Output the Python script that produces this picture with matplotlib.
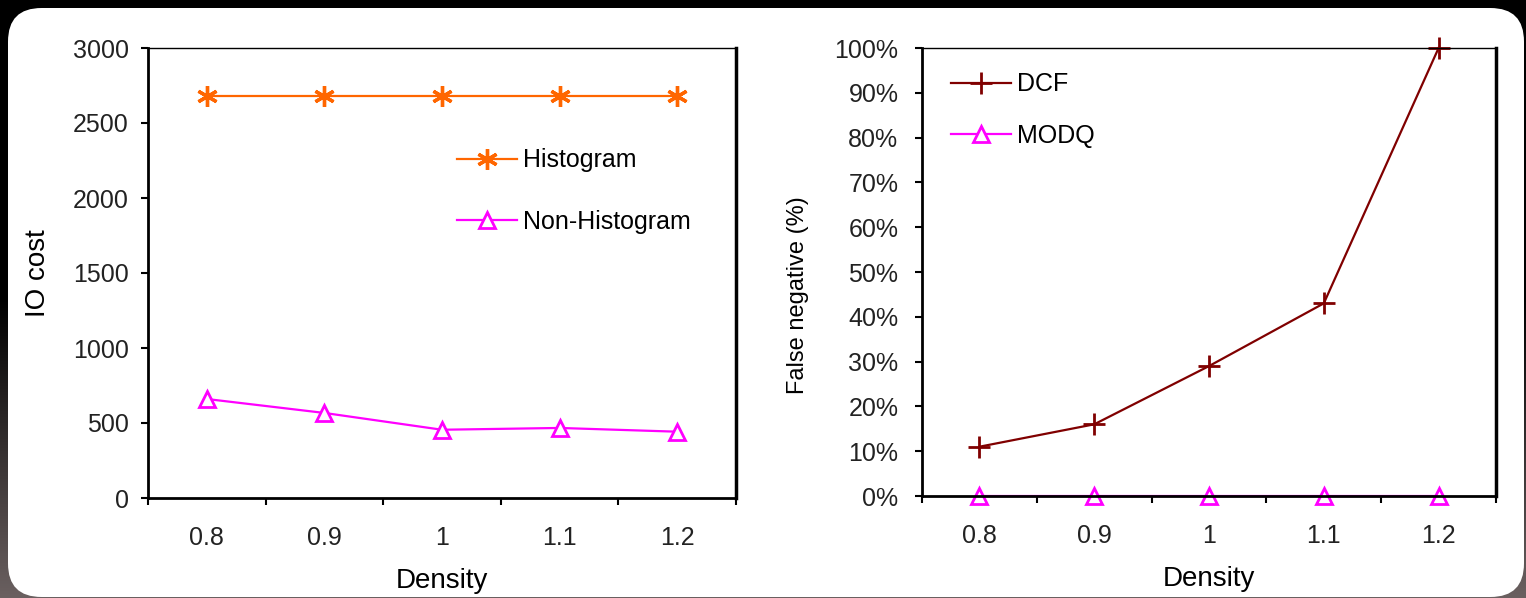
import numpy as np
import matplotlib
matplotlib.use("Agg")
import matplotlib.pyplot as plt
from matplotlib.patches import FancyBboxPatch
from matplotlib.colors import LinearSegmentedColormap

plt.rcParams['font.family'] = ['Liberation Sans', 'DejaVu Sans']

# ---- data ----
density = ["0.8", "0.9", "1", "1.1", "1.2"]
histogram_io = [2680, 2680, 2680, 2680, 2680]
non_histogram_io = [660, 567, 455, 467, 442]
dcf_fn = [11, 16, 29, 43, 100]
modq_fn = [0, 0, 0, 0, 0]
left_yticks = [0, 500, 1000, 1500, 2000, 2500, 3000]
right_yticks = [0, 10, 20, 30, 40, 50, 60, 70, 80, 90, 100]

W, H = 1526, 598
fig = plt.figure(figsize=(W / 100, H / 100), dpi=100)
fig.patch.set_facecolor('black')

# background gradient + rounded white panel
bg = fig.add_axes([0, 0, 1, 1], zorder=-10)
grad = np.linspace(0, 1, 256).reshape(-1, 1)
cmap = LinearSegmentedColormap.from_list('g', ['#000000', '#000000', '#6a6060'])
bg.imshow(grad, aspect='auto', cmap=cmap, extent=[0, 1, 0, 1], origin='upper')
bg.set_xlim(0, 1); bg.set_ylim(0, 1)
bg.axis('off')
panel = FancyBboxPatch((8 / W, 1 / H), (1524 - 8) / W, (590 - 1) / H,
                       boxstyle="round,pad=0,rounding_size=0.022",
                       transform=fig.transFigure, facecolor='white',
                       edgecolor='none', mutation_aspect=W / H)
bg.add_patch(panel)

x = np.arange(len(density))

def style_axes(ax, ypad):
    ax.set_xlim(-0.5, len(density) - 0.5)
    ax.set_xticks(np.arange(-0.5, len(density), 1.0))
    ax.set_xticklabels([])
    ax.set_xticks(x, minor=True)
    ax.set_xticklabels(density, minor=True)
    ax.tick_params(axis='x', which='major', direction='out', length=5, width=1.5, color='black')
    ax.tick_params(axis='x', which='minor', length=0, pad=20, labelsize=18, labelcolor='#222222')
    ax.tick_params(axis='y', direction='out', length=5, width=1.5, pad=ypad,
                   labelsize=18, labelcolor='#222222')
    for s in ['left', 'bottom']:
        ax.spines[s].set_linewidth(2)
    ax.spines['top'].set_linewidth(1)
    ax.spines['right'].set_linewidth(2.5)
    ax.set_facecolor('white')

# ---- left chart ----
ax1 = fig.add_axes([148 / W, 1 - 498 / H, (736 - 148) / W, (498 - 48) / H])
ax1.plot(x, histogram_io, color='#ff6600', lw=1.6, marker=(6, 2, 0), ms=15, mew=2.4,
         label='Histogram')
ax1.plot(x, non_histogram_io, color='#ff00ff', lw=1.6, marker='^', ms=12, mew=2,
         mfc='white', label='Non-Histogram')
ax1.set_ylim(0, 3000)
ax1.set_yticks(left_yticks)
style_axes(ax1, 9)
ax1.set_xlabel('Density', fontsize=20, labelpad=13)
ax1.set_ylabel('IO cost', fontsize=20)
ax1.yaxis.set_label_coords((51 - 148) / 588, 0.5)
ax1.legend(loc='center left', bbox_to_anchor=((457 - 148) / 588, 1 - (191 - 48) / 450),
           frameon=False, fontsize=18, handlelength=2.4, handletextpad=0.25,
           borderpad=0, borderaxespad=0, labelspacing=1.5)

# ---- right chart ----
ax2 = fig.add_axes([922 / W, 1 - 496 / H, (1496 - 922) / W, (496 - 48) / H])
ax2.plot(x, dcf_fn, color='#800000', lw=1.6, marker='+', ms=16, mew=2, label='DCF')
ax2.plot(x, modq_fn, color='#ff00ff', lw=1.6, marker='^', ms=12, mew=2,
         mfc='white', label='MODQ')
ax2.set_ylim(0, 100)
ax2.set_yticks(right_yticks)
ax2.set_yticklabels([f"{v}%" for v in right_yticks])
style_axes(ax2, 12)
for l in ax2.lines:
    l.set_clip_on(False)
ax2.set_xlabel('Density', fontsize=20, labelpad=13)
ax2.set_ylabel('False negative (%)', fontsize=17)
ax2.yaxis.set_label_coords((809 - 922) / 574, 1 - (295 - 48) / 448)
ax2.legend(loc='center left', bbox_to_anchor=((951 - 922) / 574, 1 - (110 - 48) / 448),
           frameon=False, fontsize=18, handlelength=2.4, handletextpad=0.25,
           borderpad=0, borderaxespad=0, labelspacing=1.1)

fig.savefig('out.png', dpi=100, facecolor=fig.get_facecolor())
